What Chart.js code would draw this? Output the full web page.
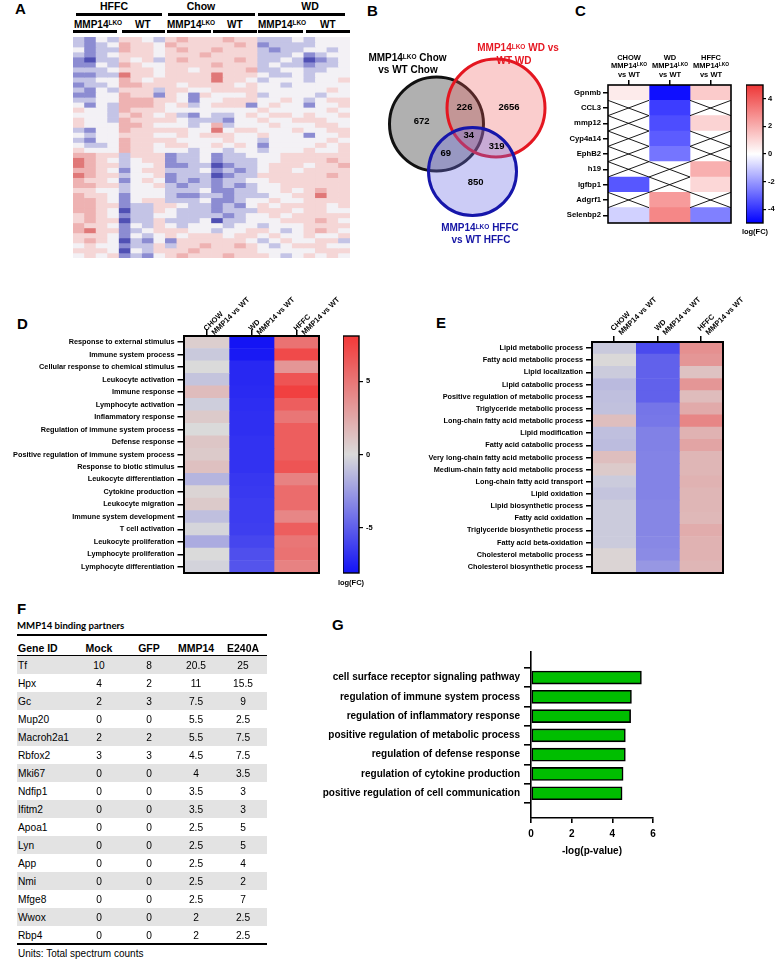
<!DOCTYPE html>
<html>
<head>
<meta charset="utf-8">
<script src="https://cdn.jsdelivr.net/npm/chart.js@4.4.1/dist/chart.umd.min.js"></script>
<style>
html,body{margin:0;padding:0;background:#fff;}
#fig{position:relative;width:777px;height:961px;overflow:hidden;font-family:"Liberation Sans",Arial,Helvetica,sans-serif;color:#000;}
.t{position:absolute;white-space:nowrap;line-height:1;}
.sup{font-size:0.65em;position:relative;top:-0.42em;}
.blk{position:absolute;}
canvas{position:absolute;}
</style>
</head>
<body>
<div id="fig"></div>
<script>
// ================= DATA =================
// Panel A: heatmap (rows top->bottom), 24 columns; digit 0 (strong blue) .. 3 (white) .. 6 (strong red)
const aGroups = ['HFFC', 'Chow', 'WD'];
const aSubGroups = ['MMP14', 'WT', 'MMP14', 'WT', 'MMP14', 'WT'];
const aRows = [
"2132 4432 4544 4544 2223 2333",
"2123 5443 5444 4454 1222 2333",
"3122 5443 4544 5444 2122 3323",
"2123 4443 4445 4444 2223 1233",
"1022 4342 4544 4454 2232 0123",
"1132 5433 4444 5444 2322 1223",
"2223 4443 4434 4445 2233 2233",
"1122 6443 4444 6444 3223 2333",
"2233 5434 4444 6443 2333 2334",
"1223 5544 4344 4434 3323 3333",
"2132 4442 4433 4444 3333 3343",
"1133 5441 4314 3334 2333 3233",
"2233 5554 4313 3444 3343 2344",
"3132 5554 3423 4441 3433 1334",
"4332 5444 3333 3333 4333 3343",
"3332 4543 4213 2234 3443 4334",
"4332 5444 4322 2133 4334 4433",
"4333 5543 3323 5233 3433 3443",
"2133 5444 4433 6344 3334 3344",
"3233 4443 3434 4433 4333 1334",
"2133 5444 4333 3433 2333 3343",
"3223 5443 4433 4343 1333 3434",
"4333 5443 3323 3233 2333 4334",
"5544 2444 1223 1223 3344 4444",
"6543 2344 1223 1222 3344 4454",
"6544 2334 1122 0122 3444 3445",
"5543 1344 2223 1212 3443 4444",
"6544 2334 1222 0122 4444 4454",
"5443 1343 1212 1223 3444 4444",
"5544 2334 2122 1212 3344 4444",
"4433 2333 2223 1122 3343 4544",
"5443 1333 2112 2122 2334 4644",
"5543 1344 2223 1123 3433 4444",
"5544 1224 4322 1213 4344 4434",
"5543 0224 3222 1222 4443 4433",
"4543 1223 3222 2123 3434 4444",
"4544 0224 2223 0223 3344 4543",
"5443 1324 3233 3233 2333 4444",
"5644 1234 4433 2334 4323 4543",
"4443 1323 4344 4344 3433 4334",
"4543 0213 1444 4443 2343 3442",
"3433 1224 2445 4454 3234 4433",
"4443 0324 4454 4444 3333 3444",
"3434 1213 4544 4544 4323 4343"
];

// Panel B: Venn
const vennNames = ['Chow', 'WD', 'HFFC'];
const vennX = [76.5, 136, 112.5];
const vennY = [84, 68, 131.5];
const vennR = [47, 49, 44];
const vennCounts = ['672', '226', '2656', '34', '69', '319', '850'];
const vennCountX = [61.7, 104.5, 149, 108.7, 85.7, 136.7, 115.7];
const vennCountY = [81.5, 67.5, 67.5, 95, 113.3, 106.7, 142.7];

// Panel C
const cGenes = ['Gpnmb', 'CCL3', 'mmp12', 'Cyp4a14', 'EphB2', 'h19', 'Igfbp1', 'Adgrf1', 'Selenbp2'];
const cChow = [0.5, null, null, null, null, null, -3.3, null, -0.9];
const cWD = [-4.7, -3.8, -3.5, -3.2, -2.7, null, null, 2.5, 3.0];
const cHFFC = [1.3, null, 1.1, null, null, 2.0, 1.0, null, -2.5];
const cColorTicks = [-4, -2, 0, 2, 4];

// Panel D
const dTerms = ['Response to external stimulus', 'Immune system process', 'Cellular response to chemical stimulus',
  'Leukocyte activation', 'Immune response', 'Lymphocyte activation', 'Inflammatory response',
  'Regulation of immune system process', 'Defense response', 'Positive regulation of immune system process',
  'Response to biotic stimulus', 'Leukocyte differentiation', 'Cytokine production', 'Leukocyte migration',
  'Immune system development', 'T cell activation', 'Leukocyte proliferation', 'Lymphocyte proliferation',
  'Lymphocyte differentiation'];
const dChow = [0.6, -0.7, 0, -0.9, 1.5, -0.5, 0.8, 0, 1.0, 0.8, 1.3, -1.5, 0.3, 0.8, -1.1, -0.2, -1.9, 0, -0.3];
const dWD = [-8, -7.8, -7.2, -7.2, -7.1, -7, -6.9, -6.9, -6.8, -6.8, -6.8, -6.6, -6.5, -6.4, -6.4, -6.3, -6, -5.6, -5.4];
const dHFFC = [5.2, 7.2, 3.4, 6.7, 7.7, 6.2, 5.0, 6.2, 6.2, 6.2, 6.7, 4.4, 5.5, 5.5, 4.2, 6.2, 5.0, 5.2, 4.4];
const dColorTicks = [-5, 0, 5];
const deColumns = [['CHOW', 'MMP14 vs WT'], ['WD', 'MMP14 vs WT'], ['HFFC', 'MMP14 vs WT']];

// Panel E
const eTerms = ['Lipid metabolic process', 'Fatty acid metabolic process', 'Lipid localization', 'Lipid catabolic process',
  'Positive regulation of metabolic process', 'Triglyceride metabolic process', 'Long-chain fatty acid metabolic process',
  'Lipid modification', 'Fatty acid catabolic process', 'Very long-chain fatty acid metabolic process',
  'Medium-chain fatty acid metabolic process', 'Long-chain fatty acid transport', 'Lipid oxidation',
  'Lipid biosynthetic process', 'Fatty acid oxidation', 'Triglyceride biosynthetic process', 'Fatty acid beta-oxidation',
  'Cholesterol metabolic process', 'Cholesterol biosynthetic process'];
const eChow = [-0.7, 0.1, -0.6, -1.3, -1.1, -1.0, 1.4, -1.1, -1.2, 1.4, 0.8, -0.6, -0.9, -0.6, -0.6, -0.6, -0.6, 0.3, 0.3];
const eWD = [-5.8, -4.9, -4.9, -4.9, -4.9, -4.1, -4.0, -3.6, -3.6, -3.5, -3.5, -3.5, -3.5, -3.4, -3.4, -3.4, -3.3, -3.2, -2.7];
const eHFFC = [3.7, 3.4, 1.2, 3.4, 1.5, 2.4, 4.2, 2.0, 2.7, 1.8, 1.8, 2.0, 1.8, 1.8, 1.7, 2.3, 2.0, 2.0, 1.8];

// Panel F
const fHeader = ['Gene ID', 'Mock', 'GFP', 'MMP14', 'E240A'];
const fGenes = ['Tf', 'Hpx', 'Gc', 'Mup20', 'Macroh2a1', 'Rbfox2', 'Mki67', 'Ndfip1', 'Ifitm2', 'Apoa1', 'Lyn', 'App', 'Nmi', 'Mfge8', 'Wwox', 'Rbp4'];
const fMock = [10, 4, 2, 0, 2, 3, 0, 0, 0, 0, 0, 0, 0, 0, 0, 0];
const fGFP = [8, 2, 3, 0, 2, 3, 0, 0, 0, 0, 0, 0, 0, 0, 0, 0];
const fMMP14 = [20.5, 11, 7.5, 5.5, 5.5, 4.5, 4, 3.5, 3.5, 2.5, 2.5, 2.5, 2.5, 2.5, 2, 2];
const fE240A = [25, 15.5, 9, 2.5, 7.5, 7.5, 3.5, 3, 3, 5, 5, 4, 2, 7, 2.5, 2.5];

// Panel G
const gTerms = ['cell surface receptor signaling pathway', 'regulation of immune system process',
  'regulation of inflammatory response', 'positive regulation of metabolic process', 'regulation of defense response',
  'regulation of cytokine production', 'positive regulation of cell communication'];
const gValues = [5.43, 4.94, 4.9, 4.64, 4.64, 4.53, 4.48];
const gTicks = [0, 2, 4, 6];

// ================= HELPERS =================
const FONT = '"Liberation Sans", Arial, Helvetica, sans-serif';
const fig = document.getElementById('fig');
Chart.defaults.font.family = FONT;
Chart.defaults.color = '#000';

function txt(html, x, y, o = {}) {
  const d = document.createElement('div');
  d.className = 't';
  d.innerHTML = html;
  const al = o.align || 'left';
  const tx = al === 'center' ? '-50%' : al === 'right' ? '-100%' : '0';
  d.style.left = x + 'px';
  d.style.top = y + 'px';
  d.style.fontSize = (o.size || 10) + 'px';
  d.style.fontWeight = o.bold === false ? 'normal' : 'bold';
  if (o.color) d.style.color = o.color;
  if (o.family) d.style.fontFamily = o.family;
  d.style.transform = 'translate(' + tx + ',-50%)';
  fig.appendChild(d);
  return d;
}
function rtxt(text, x, y, size) {
  const d = document.createElement('div');
  d.className = 't';
  d.textContent = text;
  d.style.fontWeight = 'bold';
  d.style.fontSize = size + 'px';
  d.style.left = x + 'px';
  d.style.top = (y - size / 2) + 'px';
  d.style.height = size + 'px';
  d.style.transformOrigin = '0 50%';
  d.style.transform = 'rotate(-45deg)';
  fig.appendChild(d);
}
function block(x, y, w, h, color) {
  const d = document.createElement('div');
  d.className = 'blk';
  d.style.left = x + 'px'; d.style.top = y + 'px';
  d.style.width = w + 'px'; d.style.height = h + 'px';
  d.style.background = color;
  fig.appendChild(d);
}
function makeCanvas(x, y, w, h) {
  const c = document.createElement('canvas');
  c.width = w; c.height = h;
  c.style.left = x + 'px'; c.style.top = y + 'px';
  c.style.width = w + 'px'; c.style.height = h + 'px';
  fig.appendChild(c);
  return c;
}
function cmapFactory(stops) {
  return v => {
    if (v <= stops[0][0]) return 'rgb(' + stops[0][1].join(',') + ')';
    for (let i = 1; i < stops.length; i++) {
      if (v <= stops[i][0]) {
        const [v0, c0] = stops[i - 1], [v1, c1] = stops[i];
        const f = (v - v0) / (v1 - v0);
        return 'rgb(' + c0.map((c, k) => Math.round(c + (c1[k] - c) * f)).join(',') + ')';
      }
    }
    return 'rgb(' + stops[stops.length - 1][1].join(',') + ')';
  };
}
const cCmap = cmapFactory([[-5, [0, 0, 255]], [0, [255, 255, 255]], [5, [238, 55, 55]]]);
const deCmap = cmapFactory([[-8, [20, 20, 245]], [0, [218, 218, 218]], [8, [242, 58, 58]]]);
const aPalette = ['rgb(80,80,180)', 'rgb(140,140,210)', 'rgb(196,196,230)', 'rgb(243,241,245)',
  'rgb(245,214,214)', 'rgb(238,178,178)', 'rgb(224,120,120)'];

function makeFrame(width) {
  return { id: 'frame', afterDraw(chart) {
    if (!width) return;
    const a = chart.chartArea, c = chart.ctx;
    c.save(); c.strokeStyle = '#000'; c.lineWidth = width;
    c.strokeRect(a.left, a.top, a.right - a.left, a.bottom - a.top);
    c.restore();
  } };
}
function makeCross(cols) {
  return { id: 'cross', afterDatasetsDraw(chart) {
    const c = chart.ctx;
    c.save(); c.strokeStyle = '#000'; c.lineWidth = 0.9;
    cols.forEach((vals, d) => {
      const meta = chart.getDatasetMeta(d);
      vals.forEach((v, i) => {
        if (v !== null) return;
        const p = meta.data[i].getProps(['x', 'y', 'base', 'height'], true);
        const x0 = Math.min(p.x, p.base), x1 = Math.max(p.x, p.base);
        const y0 = p.y - p.height / 2, y1 = p.y + p.height / 2;
        c.beginPath(); c.moveTo(x0, y0); c.lineTo(x1, y1); c.moveTo(x0, y1); c.lineTo(x1, y0); c.stroke();
      });
    });
    c.restore();
  } };
}
const baseOpts = { responsive: false, animation: false, devicePixelRatio: 1, events: [] };

function heatmap(cv, rows, cols, cmap, cfg) {
  return new Chart(cv, {
    type: 'bar',
    data: { labels: rows, datasets: cols.map(vals => ({
      data: vals.map(() => 1),
      backgroundColor: vals.map(v => v === null ? '#ffffff' : cmap(v)),
      borderWidth: 0, barPercentage: 1, categoryPercentage: 1
    })) },
    options: Object.assign({}, baseOpts, {
      indexAxis: 'y',
      layout: { padding: { top: cfg.padTop, bottom: cfg.padBottom, left: 0, right: cfg.padRight } },
      plugins: { legend: { display: false }, tooltip: { enabled: false } },
      scales: {
        x: { type: 'linear', position: 'top', stacked: true, min: 0, max: cols.length,
          afterBuildTicks: ax => { ax.ticks = cols.map((_, i) => ({ value: i + 0.5 })); },
          ticks: { display: false },
          grid: { drawOnChartArea: false, drawTicks: true, tickLength: cfg.xTick, color: '#000', lineWidth: 1.5 },
          border: { display: false },
          afterFit: ax => { ax.height = cfg.xHeight; } },
        y: { type: 'category', stacked: true, offset: true,
          grid: { offset: false, drawOnChartArea: false, drawTicks: true, tickLength: cfg.yTick, color: '#000', lineWidth: 1.5 },
          border: { display: false },
          ticks: { autoSkip: false, color: '#000', padding: cfg.yPad, font: { family: FONT, weight: 'bold', size: cfg.fontSize } },
          afterFit: ax => { ax.width = cfg.yWidth; } }
      }
    }),
    plugins: cfg.cross ? [makeFrame(cfg.frame), makeCross(cols)] : [makeFrame(cfg.frame)]
  });
}
function colorbar(cv, cmap, min, max, ticks, cfg) {
  return new Chart(cv, {
    type: 'bar',
    data: { labels: [''], datasets: [{
      data: [[min, max]],
      backgroundColor: ctx => {
        const ch = ctx.chart, a = ch.chartArea;
        if (!a) return '#fff';
        const g = ch.ctx.createLinearGradient(0, a.bottom, 0, a.top);
        for (let k = 0; k <= 40; k++) g.addColorStop(k / 40, cmap(min + (max - min) * k / 40));
        return g;
      },
      borderWidth: 0, barPercentage: 1, categoryPercentage: 1
    }] },
    options: Object.assign({}, baseOpts, {
      layout: { padding: { top: cfg.padTop, bottom: cfg.padBottom, left: 0, right: 0 } },
      plugins: { legend: { display: false }, tooltip: { enabled: false } },
      scales: {
        x: { display: false },
        y: { position: 'right', min: min, max: max,
          afterBuildTicks: ax => { ax.ticks = ticks.map(v => ({ value: v })); },
          ticks: { color: '#000', padding: cfg.pad, callback: v => String(v), font: { family: FONT, weight: 'bold', size: cfg.fontSize } },
          grid: { drawOnChartArea: false, tickLength: cfg.tick, color: '#000', lineWidth: 1.2 },
          border: { display: false },
          afterFit: ax => { ax.width = cfg.yWidth; } }
      }
    }),
    plugins: [makeFrame(cfg.frame)]
  });
}

// ================= PANEL LETTERS =================
txt('A', 15, 8, { size: 15 });
txt('B', 367, 10, { size: 15 });
txt('C', 575, 10, { size: 15 });
txt('D', 17, 322.5, { size: 15 });
txt('E', 436, 322, { size: 15 });
txt('F', 17, 608, { size: 15 });
txt('G', 332, 624, { size: 15 });

// ================= PANEL A =================
const aMatrix = aRows.map(r => r.replace(/\s+/g, '').split('').map(Number));
const aCols = aMatrix[0].map((_, i) => String(i + 1));
new Chart(makeCanvas(73, 37, 277, 221), {
  type: 'bar',
  data: { labels: aCols, datasets: aMatrix.map(row => ({
    data: row.map(() => 1),
    backgroundColor: row.map(v => aPalette[v]),
    borderWidth: 0, barPercentage: 1, categoryPercentage: 1
  })) },
  options: Object.assign({}, baseOpts, {
    layout: { padding: 0 },
    plugins: { legend: { display: false }, tooltip: { enabled: false } },
    scales: {
      x: { display: false, stacked: true },
      y: { display: false, stacked: true, min: 0, max: aMatrix.length, reverse: true }
    }
  })
});
// group headers
const aGroupText = [114, 201, 310];
const aGroupBars = [[76, 162], [168, 255], [258, 345]];
aGroups.forEach((g, i) => {
  txt(g, aGroupText[i], 5.5, { size: 10.5, align: 'center' });
  block(aGroupBars[i][0], 12.8, aGroupBars[i][1] - aGroupBars[i][0], 3.4, '#000');
});
const aSubText = [74, 135, 167, 227, 258, 320];
const aSubBars = [[73, 117], [122, 165], [167, 211], [213, 257], [258, 303], [306, 350]];
aSubGroups.forEach((s, i) => {
  txt(s === 'MMP14' ? 'MMP14<span class="sup">LKO</span>' : s, aSubText[i], 24.5, { size: 10 });
  block(aSubBars[i][0], 29.5, aSubBars[i][1] - aSubBars[i][0], 3.6, '#000');
});

// ================= PANEL B (Venn) =================
// The bubble controller pads the chart area by (max radius + border) on every side,
// so the canvas is enlarged by that margin to keep the 200x190 plot area at (360,40).
const vennFill = ['rgba(80,80,80,0.45)', 'rgba(240,90,90,0.3)', 'rgba(110,110,230,0.35)'];
const vennLine = ['#111111', 'rgb(228,22,32)', 'rgb(22,22,170)'];
const vennBorder = 3;
const vennPad = Math.max(...vennR) + vennBorder;
const vennLabelPlugin = { id: 'vennLabels', afterDatasetsDraw(chart) {
  const c = chart.ctx, xs = chart.scales.x, ys = chart.scales.y;
  c.save();
  c.fillStyle = '#000'; c.textAlign = 'center'; c.textBaseline = 'middle';
  c.font = 'bold 9.5px ' + FONT;
  vennCounts.forEach((t, i) => c.fillText(t, xs.getPixelForValue(vennCountX[i]), ys.getPixelForValue(vennCountY[i])));
  c.restore();
} };
new Chart(makeCanvas(360 - vennPad, 40 - vennPad, 200 + 2 * vennPad, 190 + 2 * vennPad), {
  type: 'bubble',
  data: { datasets: [{
    data: vennNames.map((n, i) => ({ x: vennX[i], y: vennY[i], r: vennR[i] })),
    backgroundColor: vennFill, borderColor: vennLine, borderWidth: vennBorder, hoverRadius: 0, clip: false
  }] },
  options: Object.assign({}, baseOpts, {
    layout: { padding: 0 },
    plugins: { legend: { display: false }, tooltip: { enabled: false } },
    scales: {
      x: { display: false, min: 0, max: 200 },
      y: { display: false, min: 0, max: 190, reverse: true }
    }
  }),
  plugins: [vennLabelPlugin]
});
txt('MMP14<span class="sup">LKO</span> Chow', 407.5, 58.3, { size: 10, align: 'center' });
txt('vs WT Chow', 408, 70, { size: 10, align: 'center' });
txt('MMP14<span class="sup">LKO</span> WD vs', 518, 48.3, { size: 10, align: 'center', color: 'rgb(230,25,35)' });
txt('WT WD', 514, 61, { size: 10, align: 'center', color: 'rgb(230,25,35)' });
txt('MMP14<span class="sup">LKO</span> HFFC', 480, 228.3, { size: 10, align: 'center', color: 'rgb(22,22,165)' });
txt('vs WT HFFC', 481, 239.5, { size: 10, align: 'center', color: 'rgb(22,22,165)' });

// ================= PANEL C =================
heatmap(makeCanvas(520, 76, 215, 155), cGenes, [cChow, cWD, cHFFC], cCmap,
  { padTop: 4, padBottom: 8, padRight: 4, xHeight: 5, xTick: 5, yTick: 5, yPad: 2, fontSize: 7.7, yWidth: 88, frame: 1.6, cross: true });
colorbar(makeCanvas(746, 77, 31, 154), cCmap, -5, 5, cColorTicks,
  { padTop: 8, padBottom: 8, pad: 2, tick: 3, fontSize: 7.5, yWidth: 14, frame: 1.4 });
const cColX = [629, 670, 711];
['CHOW', 'WD', 'HFFC'].forEach((h, i) => {
  txt(h, cColX[i], 57.5, { size: 7.5, align: 'center' });
  txt('MMP14<span class="sup">LKO</span>', cColX[i], 66.2, { size: 7.5, align: 'center' });
  txt('vs WT', cColX[i], 74.8, { size: 7.5, align: 'center' });
});
txt('log(FC)', 755, 232, { size: 7.5, align: 'center' });

// ================= PANEL D =================
heatmap(makeCanvas(0, 280, 330, 301), dTerms, [dChow, dWD, dHFFC], deCmap,
  { padTop: 0, padBottom: 8, padRight: 11, xHeight: 56, xTick: 6, yTick: 6.5, yPad: 3, fontSize: 7.3, yWidth: 184, frame: 2 });
colorbar(makeCanvas(343, 328, 34, 253), deCmap, -8.1, 8.1, dColorTicks,
  { padTop: 8, padBottom: 8, pad: 3, tick: 4, fontSize: 7.5, yWidth: 18, frame: 1.4 });
const dTickX = [206.5, 251.5, 296.5];
deColumns.forEach((lines, i) => {
  rtxt(lines[0], dTickX[i] - 2, 330, 7.5);
  rtxt(lines[1], dTickX[i] + 6, 333.3, 7.5);
});
txt('log(FC)', 351, 583, { size: 7.5, align: 'center' });

// ================= PANEL E =================
heatmap(makeCanvas(400, 280, 328, 301), eTerms, [eChow, eWD, eHFFC], deCmap,
  { padTop: 0, padBottom: 8, padRight: 5, xHeight: 62, xTick: 6, yTick: 6, yPad: 3, fontSize: 7.3, yWidth: 192, frame: 2 });
const eTickX = [613.8, 657.5, 701.2];
deColumns.forEach((lines, i) => {
  rtxt(lines[0], eTickX[i] - 2, 329.5, 7.5);
  rtxt(lines[1], eTickX[i] + 6, 333.3, 7.5);
});

// ================= PANEL F (table) =================
txt('MMP14 binding partners', 17, 625.5, { size: 9.6, family: 'Lato, "Liberation Sans", sans-serif' });
const fColX = [18, 99, 149, 196, 243];
block(17, 634, 250, 2, '#000');
fHeader.forEach((h, j) => txt(h, fColX[j], 648, { size: 10.5, align: j === 0 ? 'left' : 'center' }));
fGenes.forEach((g, i) => {
  const top = 656 + 18 * i;
  block(17, top, 250, 18, i % 2 === 0 ? '#e3e3e3' : '#ffffff');
  const vals = [g, fMock[i], fGFP[i], fMMP14[i], fE240A[i]];
  vals.forEach((v, j) => txt(String(v), fColX[j], top + 9.8, { size: 10.2, bold: false, align: j === 0 ? 'left' : 'center' }));
});
block(17, 655, 250, 1, '#000');
block(17, 942.5, 250, 2, '#000');
txt('Units: Total spectrum counts', 18, 954, { size: 10, bold: false });

// ================= PANEL G =================
new Chart(makeCanvas(290, 640, 375, 221), {
  type: 'bar',
  data: { datasets: [{
    data: gTerms.map((t, i) => ({ x: gValues[i], y: i })),
    backgroundColor: 'rgb(0,190,0)', borderColor: '#000', borderWidth: 1.6, borderSkipped: false, barThickness: 13
  }] },
  options: Object.assign({}, baseOpts, {
    indexAxis: 'y',
    layout: { padding: { top: 12, right: 12, left: 0, bottom: 0 } },
    plugins: { legend: { display: false }, tooltip: { enabled: false } },
    scales: {
      y: { type: 'linear', reverse: true, min: -0.71, max: 6.67,
        afterBuildTicks: ax => { ax.ticks = gTerms.map((t, i) => ({ value: i })); },
        ticks: { callback: v => gTerms[v], color: '#000', padding: 4, font: { family: FONT, weight: 'bold', size: 10 } },
        grid: { drawOnChartArea: false, tickLength: 7, color: '#000', lineWidth: 1.6 },
        border: { color: '#000', width: 1.6 },
        afterFit: ax => { ax.width = 241; } },
      x: { type: 'linear', min: 0, max: 6,
        afterBuildTicks: ax => { ax.ticks = gTicks.map(v => ({ value: v })); },
        ticks: { color: '#000', padding: 5, callback: v => String(v), font: { family: FONT, weight: 'bold', size: 10 } },
        grid: { drawOnChartArea: false, tickLength: 5, color: '#000', lineWidth: 1.6 },
        border: { color: '#000', width: 1.6 },
        title: { display: true, text: '-log(p-value)', color: '#000', padding: { top: 4, bottom: 4 }, font: { family: FONT, weight: 'bold', size: 10 } },
        afterFit: ax => { ax.height = 43; } }
    }
  })
});
</script>
</body>
</html>
